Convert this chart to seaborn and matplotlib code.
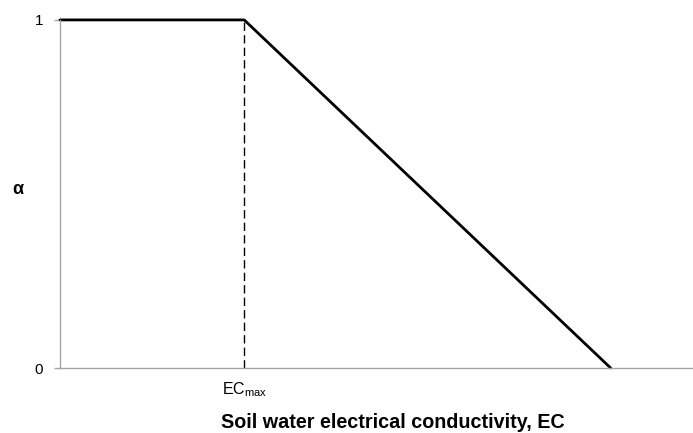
import matplotlib
matplotlib.use("Agg")
import matplotlib.pyplot as plt
import pandas as pd
import seaborn as sns

# response curve (x in arbitrary EC units, alpha 0..1)
ec_values = [0.0, 2.91, 8.70]
alpha_values = [1.0, 1.0, 0.0]
ec_max = 2.91
dashed_y = [0.0, 1.0]
y_ticks = [0, 1]
x_tick_label = "EC$_{\\mathregular{max}}$"

sns.set_style("white")
plt.rcParams["font.family"] = ["Liberation Sans", "DejaVu Sans"]
plt.rcParams["text.color"] = "black"
plt.rcParams["xtick.labelcolor"] = "black"
plt.rcParams["ytick.labelcolor"] = "black"
plt.rcParams["axes.labelcolor"] = "black"

fig = plt.figure(figsize=(6.93, 4.33), dpi=100)
ax = fig.add_axes([0.0866, 0.150, 0.9134, 0.804])

df = pd.DataFrame({"EC": ec_values, "alpha": alpha_values})
sns.lineplot(data=df, x="EC", y="alpha", sort=False, estimator=None,
             color="black", linewidth=2.0, clip_on=False, ax=ax)
dash = pd.DataFrame({"EC": [ec_max, ec_max], "alpha": dashed_y})
sns.lineplot(data=dash, x="EC", y="alpha", sort=False, estimator=None,
             color="black", linewidth=1.0, linestyle=(0, (6, 3)), ax=ax)

ax.set_xlim(0, 10)
ax.set_ylim(0, 1)
ax.set_yticks(y_ticks)
ax.set_yticklabels([str(t) for t in y_ticks], fontsize=11)
ax.set_xticks([ec_max])
ax.set_xticklabels([x_tick_label], fontsize=11.5)
ax.tick_params(axis="y", left=True, length=4, width=1, color="#a6a6a6", pad=8)
ax.tick_params(axis="x", bottom=False, pad=5)

for side in ["top", "right"]:
    ax.spines[side].set_visible(False)
for side in ["left", "bottom"]:
    ax.spines[side].set_color("#a6a6a6")
    ax.spines[side].set_linewidth(1.0)

ax.set_xlabel("Soil water electrical conductivity, EC", fontsize=14.2, fontweight="bold", va="center")
ax.xaxis.set_label_coords(0.526, -0.155)
ax.set_ylabel("α", fontsize=13, fontweight="bold", rotation=0, va="center", ha="center")
ax.yaxis.set_label_coords(-0.066, 0.514)

fig.savefig("out.png", dpi=100)
